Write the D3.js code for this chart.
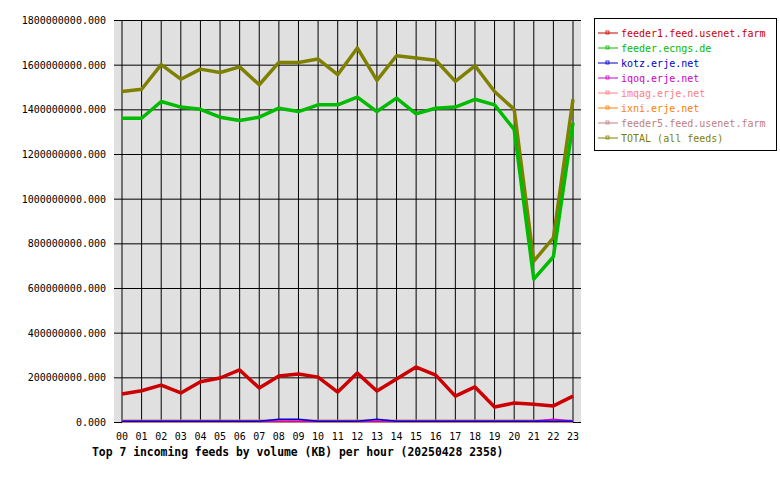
<!DOCTYPE html>
<html><head><meta charset="utf-8">
<script src="https://cdn.jsdelivr.net/npm/d3@7"></script>
<style>body{margin:0;background:#fff}text{font-family:"DejaVu Sans Mono",monospace}</style>
</head><body><div class="canvas"></div>
<script>
// Data (values in millions of KB)
const hours = d3.range(24).map(h => String(h).padStart(2, '0'));
const feeder1 = [125,140,165,130,180,197,233,152,206,215,201,134,219,139,193,246,210,116,157,67,85,80,72,116];
const ecngs = [1360,1360,1435,1410,1400,1365,1350,1365,1405,1390,1420,1420,1455,1390,1450,1380,1405,1410,1445,1420,1310,640,740,1340];
const kotz = [3,3,3,3,3,3,3,3,12,12,3,3,3,12,3,3,3,3,3,3,3,3,3,3];
const iqoq = [3,3,3,3,3,3,3,3,3,3,3,3,3,3,3,3,3,3,3,3,3,3,12,3];
const imqag = [3,3,3,3,3,3,3,3,3,3,3,3,3,3,3,3,3,3,3,3,3,3,3,3];
const ixni = [3,3,3,3,3,3,3,3,3,3,3,3,3,3,3,3,3,3,3,3,3,3,8,3];
const feeder5 = [3,3,3,3,3,3,3,3,3,3,3,3,3,3,3,3,3,3,3,3,3,3,3,3];
const total = [1480,1490,1600,1535,1580,1565,1590,1510,1610,1610,1625,1555,1675,1530,1640,1630,1620,1525,1595,1480,1400,720,825,1445];
const yTicks = d3.range(0, 1801, 200);

const series = [
    {name: 'feeder1.feed.usenet.farm', color: '#cc0000', values: feeder1, w: 3.5},
    {name: 'feeder.ecngs.de', color: '#00bb00', values: ecngs, w: 3.5},
    {name: 'kotz.erje.net', color: '#0000cc', values: kotz, w: 1.5},
    {name: 'iqoq.erje.net', color: '#cc00cc', values: iqoq, w: 1.5},
    {name: 'imqag.erje.net', color: '#ff8080', values: imqag, w: 1.5},
    {name: 'ixni.erje.net', color: '#ff8000', values: ixni, w: 1.5},
    {name: 'feeder5.feed.usenet.farm', color: '#c08080', values: feeder5, w: 3.5},
    {name: 'TOTAL (all feeds)', color: '#808000', values: total, w: 3.5}
];
const drawOrder = [6, 4, 5, 3, 2, 7, 1, 0];

const svg = d3.select('.canvas').append('svg').attr('width', 780).attr('height', 480);

const x = d3.scalePoint().domain(hours).range([122, 573]);
const y = d3.scaleLinear().domain([0, 1800]).range([422, 20]);

svg.append('rect').attr('x', 114).attr('y', 20).attr('width', 467).attr('height', 402)
    .attr('fill', '#e0e0e0');

// Grid
svg.append('g').selectAll('line').data(hours).join('line')
    .attr('x1', d => x(d)).attr('x2', d => x(d)).attr('y1', 20).attr('y2', 422)
    .attr('stroke', '#000');
svg.append('g').selectAll('line').data(yTicks).join('line')
    .attr('x1', 114).attr('x2', 581).attr('y1', d => y(d) + 0.5).attr('y2', d => y(d) + 0.5)
    .attr('stroke', '#000');

svg.append('g').selectAll('text').data(yTicks).join('text')
    .attr('x', 106).attr('y', d => y(d) + 4).attr('text-anchor', 'end')
    .attr('font-size', 10).text(d => (d * 1000000) + '.000');
svg.append('g').selectAll('text').data(hours).join('text')
    .attr('x', d => x(d)).attr('y', 440).attr('text-anchor', 'middle')
    .attr('font-size', 10).text(d => d);

const line = d3.line().x((d, i) => x(hours[i])).y(d => y(d));
drawOrder.forEach(i => {
    svg.append('path').attr('d', line(series[i].values))
        .attr('fill', 'none').attr('stroke', series[i].color)
        .attr('stroke-width', series[i].w).attr('stroke-linejoin', 'round');
});

svg.append('text').attr('x', 92).attr('y', 456).attr('font-size', 11.4)
    .attr('font-weight', 'bold').text('Top 7 incoming feeds by volume (KB) per hour (20250428 2358)');

// Legend
const legend = svg.append('g');
legend.append('rect').attr('x', 594.5).attr('y', 18.5).attr('width', 182).attr('height', 132)
    .attr('fill', '#fff').attr('stroke', '#000');
const items = legend.selectAll('g').data(series).join('g')
    .attr('transform', (d, i) => `translate(598, ${33 + i * 15})`);
items.append('line').attr('x1', 0).attr('x2', 20).attr('stroke', d => d.color);
items.append('rect').attr('x', 8).attr('y', -2).attr('width', 3).attr('height', 3)
    .attr('fill', 'none').attr('stroke', d => d.color).attr('stroke-width', 0.8);
items.append('text').attr('x', 23).attr('y', 4).attr('font-size', 10)
    .attr('fill', d => d.color).text(d => d.name);
</script></body></html>
